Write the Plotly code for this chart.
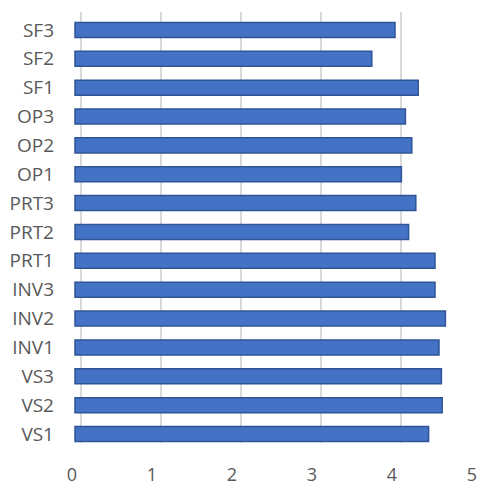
import plotly.graph_objects as go

categories = ["VS1", "VS2", "VS3", "INV1", "INV2", "INV3", "PRT1", "PRT2", "PRT3",
              "OP1", "OP2", "OP3", "SF1", "SF2", "SF3"]
values = [4.42, 4.59, 4.58, 4.55, 4.63, 4.50, 4.50, 4.17, 4.26,
          4.08, 4.21, 4.13, 4.29, 3.71, 4.00]
x_ticks = [0, 1, 2, 3, 4, 5]

W, H = 479, 486
L, R, T, B = 72, 7, 12, 43
plot_w = W - L - R
unit = plot_w / 5.0
bar_shift = 3    # front face of bars starts right of the "0" label (px)
grid_shift = 9   # back-wall gridlines further right (px)
b0 = -bar_shift / unit
g0 = -grid_shift / unit

fig = go.Figure()
fig.add_trace(go.Bar(
    x=values, y=categories, orientation="h",
    width=0.52,
    marker=dict(color="#4472C4", line=dict(color="#2F5597", width=1.5)),
    hoverinfo="x+y",
))
# invisible traces to activate overlay axes (back-wall gridlines, tick labels)
fig.add_trace(go.Scatter(x=[0], y=[categories[0]], xaxis="x2", mode="markers",
                         marker=dict(opacity=0), showlegend=False, hoverinfo="skip"))
fig.add_trace(go.Scatter(x=[0], y=[categories[0]], xaxis="x3", mode="markers",
                         marker=dict(opacity=0), showlegend=False, hoverinfo="skip"))

x_font = dict(family="Open Sans, Lato, sans-serif", size=18, color="#595959")
y_font = dict(family="Open Sans, Lato, sans-serif", size=19, color="#595959")

fig.update_layout(
    width=W, height=H,
    margin=dict(l=L, r=R, t=T, b=B, pad=0, autoexpand=False),
    paper_bgcolor="white", plot_bgcolor="white",
    showlegend=False,
    bargap=0.4,
    xaxis=dict(range=[b0, b0 + 5], showgrid=False, zeroline=False, showticklabels=False,
               showline=False, ticks="", automargin=False),
    xaxis2=dict(overlaying="x", range=[g0, g0 + 5], tickvals=x_ticks[:5],
                showgrid=True, gridcolor="#D9D9D9", gridwidth=1.5,
                showticklabels=False, zeroline=False, showline=False, ticks="",
                layer="below traces", automargin=False),
    xaxis3=dict(overlaying="x", side="bottom", range=[0, 5], tickvals=x_ticks,
                showgrid=False, zeroline=False, showline=False, ticks="",
                tickfont=x_font, ticklabelstandoff=19, ticklabeloverflow="allow",
                automargin=False),
    yaxis=dict(type="category", categoryorder="array", categoryarray=categories,
               range=[-0.31, 14.62], showgrid=False, zeroline=False, showline=False,
               ticks="", tickfont=y_font, ticklabelstandoff=17, automargin=False),
)

fig.write_html("out.html", config={"displayModeBar": False},
               post_script="document.body.style.margin='0';document.body.style.overflow='hidden';")
